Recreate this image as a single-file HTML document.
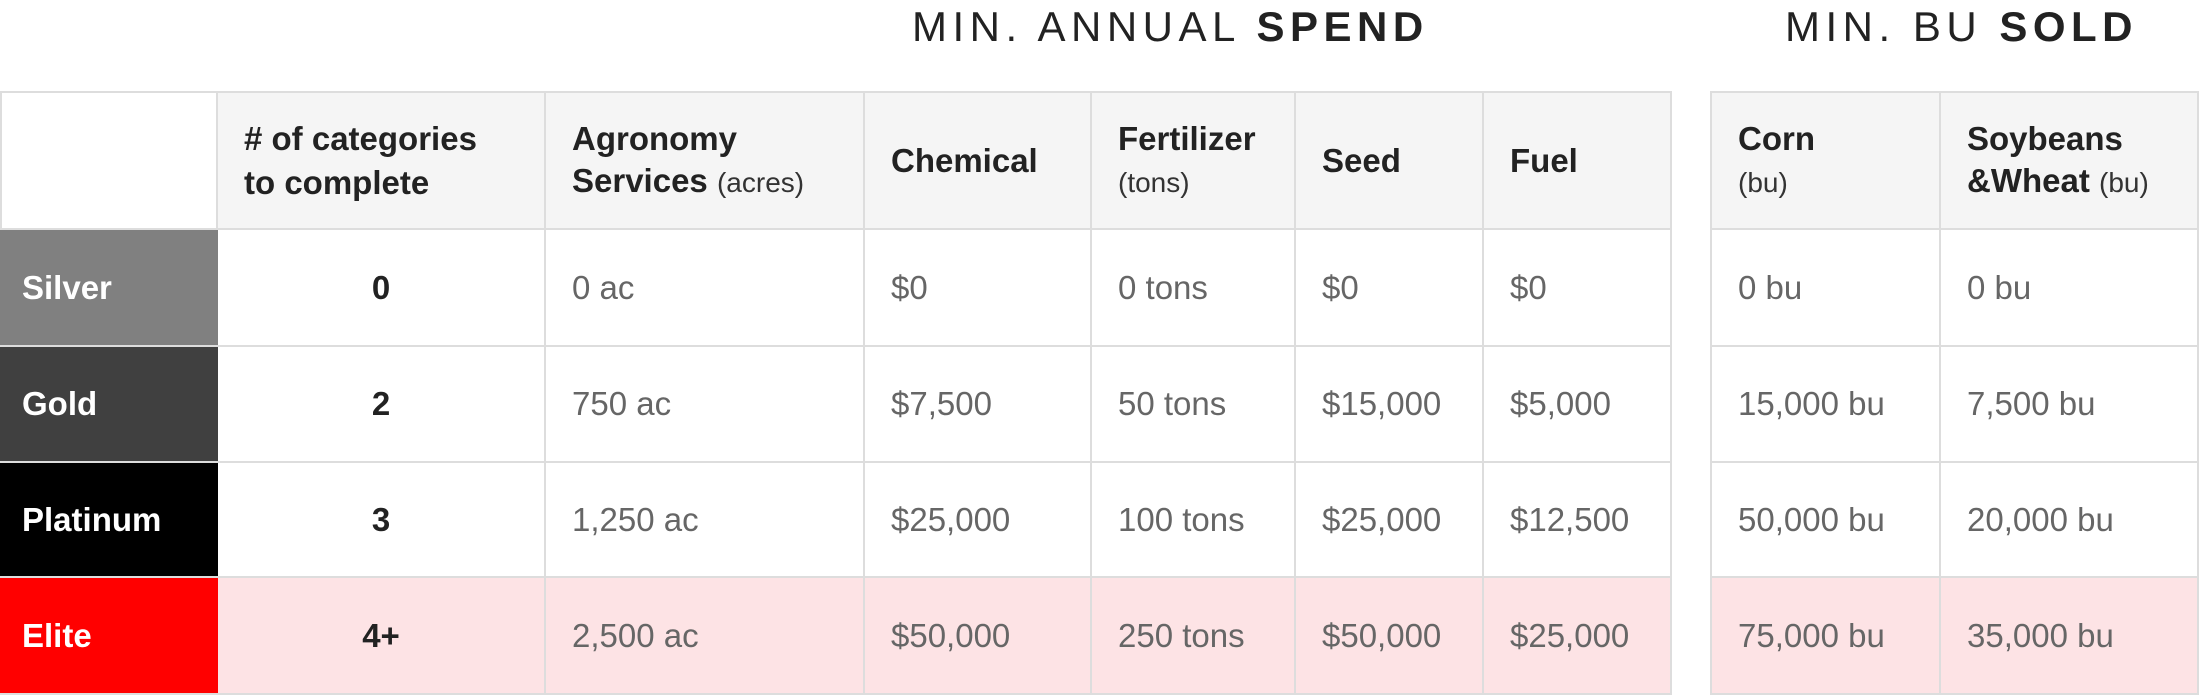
<!DOCTYPE html>
<html><head><meta charset="utf-8"><style>
body{margin:0;width:2201px;height:696px;background:#fff;position:relative;overflow:hidden;font-family:"Liberation Sans",sans-serif}
.t{position:absolute;top:3px;font-size:42px;letter-spacing:5.5px;color:#222;white-space:nowrap}
.t b{font-weight:700}
.c{position:absolute;box-sizing:border-box;border-right:2px solid #ddd;border-bottom:2px solid #ddd;display:flex;align-items:center;padding-left:26px;font-size:33px;color:#666;white-space:nowrap}
.h{background:#f5f5f5;color:#222;font-weight:700;line-height:42px;font-size:33px;border-top:2px solid #ddd}
.h small{font-weight:400;font-size:28px;color:#333}
.lab{color:#fff;font-weight:700;padding-left:22px;border-right:none}
.num{justify-content:center;padding-left:0;color:#222;font-weight:700}
.el{background:#fde3e5}
</style></head><body>
<div class="t" style="left:912px">MIN. ANNUAL <b>SPEND</b></div>
<div class="t" style="left:1785px">MIN. BU <b>SOLD</b></div>
<div id="tbl"></div>
<script>
const colX=[0,218,546,865,1092,1296,1484,1710,1941];
const colR=[218,546,865,1092,1296,1484,1672,1941,2199];
const rowY=[91,230,347,463,578,695];
const headers=["","# of categories<br>to complete","Agronomy<br>Services <small>(acres)</small>","Chemical","Fertilizer<br><small>(tons)</small>","Seed","Fuel","Corn<br><small>(bu)</small>","Soybeans<br>&amp;Wheat <small>(bu)</small>"];
const tiers=["Silver","Gold","Platinum","Elite"];
const tierColors=["#808080","#404040","#000000","#ff0000"];
const data=[
["0","0 ac","$0","0 tons","$0","$0","0 bu","0 bu"],
["2","750 ac","$7,500","50 tons","$15,000","$5,000","15,000 bu","7,500 bu"],
["3","1,250 ac","$25,000","100 tons","$25,000","$12,500","50,000 bu","20,000 bu"],
["4+","2,500 ac","$50,000","250 tons","$50,000","$25,000","75,000 bu","35,000 bu"]];
const tbl=document.getElementById('tbl');
function cell(x,y,w,h,cls,html,name){
 const d=document.createElement('div');
 d.className='c '+cls;
 d.style.cssText=`left:${x}px;top:${y}px;width:${w}px;height:${h}px`;
 d.innerHTML='<span>'+html+'</span>';
 
 
 tbl.appendChild(d);return d;
}
[[0,1672],[1710,2199]].forEach(([a,b],i)=>{
 const l=document.createElement('div');
 l.style.cssText=`position:absolute;left:${a}px;top:${rowY[0]}px;width:${b-a}px;height:${rowY[5]-rowY[0]}px;border-top:2px solid #ddd;border-left:2px solid #ddd;box-sizing:border-box`;
 
 
 tbl.appendChild(l);
});
headers.forEach((h,i)=>{
 const c=cell(colX[i],rowY[0],colR[i]-colX[i],rowY[1]-rowY[0],'h',h,'header-'+i);
 if(i===0){c.style.background='#fff';c.style.borderLeft='2px solid #ddd';}
 if(i===7)c.style.borderLeft='2px solid #ddd';
 if(i===1)c.style.lineHeight='44px';
});
tiers.forEach((t,r)=>{
 const y=rowY[r+1],h=rowY[r+2]-y;
 const lc=cell(colX[0],y,colR[0]-colX[0],h,'lab',t,'tier-'+t.toLowerCase());
 lc.style.background=tierColors[r];
 data[r].forEach((v,j)=>{
  const c=cell(colX[j+1],y,colR[j+1]-colX[j+1],h,(j===0?'num ':'')+(r===3?'el':''),v,'cell-'+t.toLowerCase()+'-'+(j+1));
  if(j===6)c.style.borderLeft='2px solid #ddd';
 });
});
</script>
</body></html>
